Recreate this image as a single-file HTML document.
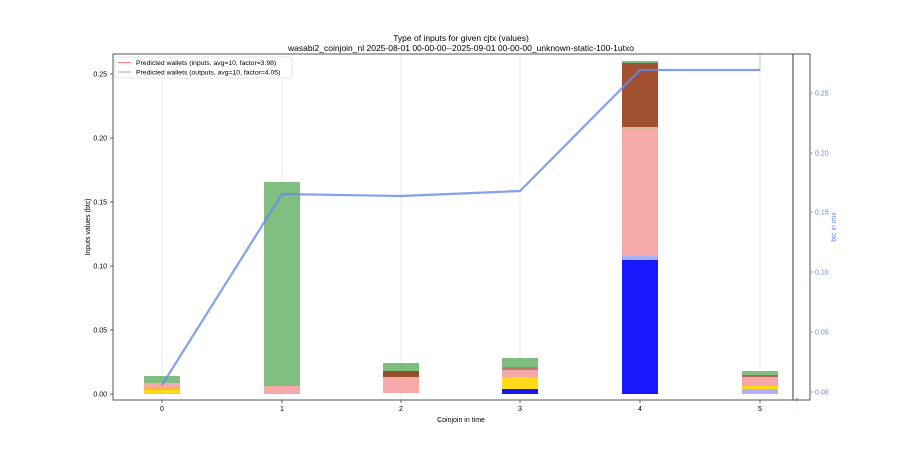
<!DOCTYPE html>
<html><head><style>body{margin:0;background:#fff;}svg{font-family:"Liberation Sans","DejaVu Sans",sans-serif;}</style></head>
<body>
<svg width="900" height="450" xmlns="http://www.w3.org/2000/svg">
<rect width="900" height="450" fill="#fff"/>
<text x="461" y="41" font-size="8.5" text-anchor="middle">Type of inputs for given cjtx (values)</text>
<text x="461" y="51" font-size="8.5" text-anchor="middle">wasabi2_coinjoin_nl 2025-08-01 00-00-00--2025-09-01 00-00-00_unknown-static-100-1utxo</text>
<g stroke="#e6e6e6" stroke-width="0.8">
<line x1="162" y1="54" x2="162" y2="400"/><line x1="282" y1="54" x2="282" y2="400"/><line x1="401" y1="54" x2="401" y2="400"/><line x1="520" y1="54" x2="520" y2="400"/><line x1="640" y1="54" x2="640" y2="400"/><line x1="760" y1="54" x2="760" y2="400"/>
</g>
<g opacity="0.9">
<rect x="144" y="390" width="36" height="4" fill="#ffd700"/><rect x="144" y="387" width="36" height="3" fill="#ffb030"/><rect x="144" y="383" width="36" height="4" fill="#f4a0a0"/><rect x="144" y="376" width="36" height="7" fill="#72b872"/>
<rect x="264" y="386" width="36" height="8" fill="#f4a0a0"/><rect x="264" y="182" width="36" height="204" fill="#72b872"/>
<rect x="383" y="377" width="36" height="16" fill="#f4a0a0"/><rect x="383" y="371" width="36" height="6" fill="#8b3a12"/><rect x="383" y="363" width="36" height="8" fill="#72b872"/>
<rect x="502" y="389" width="36" height="5" fill="#0000ee"/><rect x="502" y="377" width="36" height="12" fill="#ffd700"/><rect x="502" y="370" width="36" height="7" fill="#f4a0a0"/><rect x="502" y="367" width="36" height="3" fill="#b07060"/><rect x="502" y="358" width="36" height="9" fill="#72b872"/>
<rect x="622" y="260" width="36" height="134" fill="#0000ff"/><rect x="622" y="256" width="36" height="4" fill="#a0a8ff"/><rect x="622" y="129" width="36" height="127" fill="#f4a0a0"/><rect x="622" y="127" width="36" height="2" fill="#d0b090"/><rect x="622" y="63" width="36" height="64" fill="#983f1a"/><rect x="622" y="61" width="36" height="2" fill="#72b872"/>
<rect x="742" y="389" width="36" height="5" fill="#a8a8ff"/><rect x="742" y="386" width="36" height="3" fill="#ffd700"/><rect x="742" y="377" width="36" height="9" fill="#f4a0a0"/><rect x="742" y="375" width="36" height="2" fill="#a05a40"/><rect x="742" y="371" width="36" height="4" fill="#72b872"/>
</g>
<line x1="760" y1="54" x2="760" y2="70" stroke="#9fd09f" stroke-width="1"/>
<polyline points="162,385 282,194 401,196 520,191 640,70 760,70" fill="none" stroke="#6688ee" stroke-opacity="0.8" stroke-width="2.2"/>
<line x1="793" y1="54" x2="793" y2="400" stroke="#000" stroke-width="0.8"/>
<line x1="797" y1="398" x2="797" y2="401" stroke="#e04040" stroke-width="1"/>
<rect x="113" y="54" width="697" height="346" fill="none" stroke="#444" stroke-width="0.9"/>
<g font-size="7" text-anchor="end">
<text x="107" y="396.5">0.00</text><text x="107" y="332.5">0.05</text><text x="107" y="268.5">0.10</text><text x="107" y="204.5">0.15</text><text x="107" y="140.5">0.20</text><text x="107" y="76.5">0.25</text>
</g>
<g stroke="#444" stroke-width="0.8"><line x1="110" y1="394" x2="113" y2="394"/><line x1="110" y1="330" x2="113" y2="330"/><line x1="110" y1="266" x2="113" y2="266"/><line x1="110" y1="202" x2="113" y2="202"/><line x1="110" y1="138" x2="113" y2="138"/><line x1="110" y1="74" x2="113" y2="74"/>
<line x1="162" y1="400" x2="162" y2="403"/><line x1="282" y1="400" x2="282" y2="403"/><line x1="401" y1="400" x2="401" y2="403"/><line x1="520" y1="400" x2="520" y2="403"/><line x1="640" y1="400" x2="640" y2="403"/><line x1="760" y1="400" x2="760" y2="403"/></g>
<g font-size="7" text-anchor="middle"><text x="162" y="411">0</text><text x="282" y="411">1</text><text x="401" y="411">2</text><text x="520" y="411">3</text><text x="640" y="411">4</text><text x="760" y="411">5</text></g>
<text x="461" y="422" font-size="7" text-anchor="middle">Coinjoin in time</text>
<text transform="translate(90,227) rotate(-90)" font-size="7" text-anchor="middle">Inputs values (btc)</text>
<g stroke="#6688ee" stroke-width="0.8"><line x1="810" y1="392" x2="813" y2="392"/><line x1="810" y1="332" x2="813" y2="332"/><line x1="810" y1="272" x2="813" y2="272"/><line x1="810" y1="212" x2="813" y2="212"/><line x1="810" y1="153" x2="813" y2="153"/><line x1="810" y1="93" x2="813" y2="93"/></g>
<g font-size="7" fill="#6688ee"><text x="815" y="394.5">0.00</text><text x="815" y="334.5">0.05</text><text x="815" y="274.5">0.10</text><text x="815" y="214.5">0.15</text><text x="815" y="155.5">0.20</text><text x="815" y="95.5">0.25</text></g>
<text transform="translate(836,227) rotate(-90)" font-size="7" fill="#6688ee" text-anchor="middle">btc in mix</text>
<rect x="115" y="57" width="177" height="21" fill="#fff" fill-opacity="0.85" stroke="#ddd" stroke-width="0.8" rx="2"/>
<line x1="118" y1="62.5" x2="131" y2="62.5" stroke="#ff8080" stroke-width="1"/>
<line x1="118" y1="72" x2="131" y2="72" stroke="#80c080" stroke-width="1"/>
<text x="136" y="65" font-size="6.8">Predicted wallets (inputs, avg=10, factor=3.98)</text>
<text x="136" y="74.5" font-size="6.8">Predicted wallets (outputs, avg=10, factor=4.05)</text>
</svg>
</body></html>
